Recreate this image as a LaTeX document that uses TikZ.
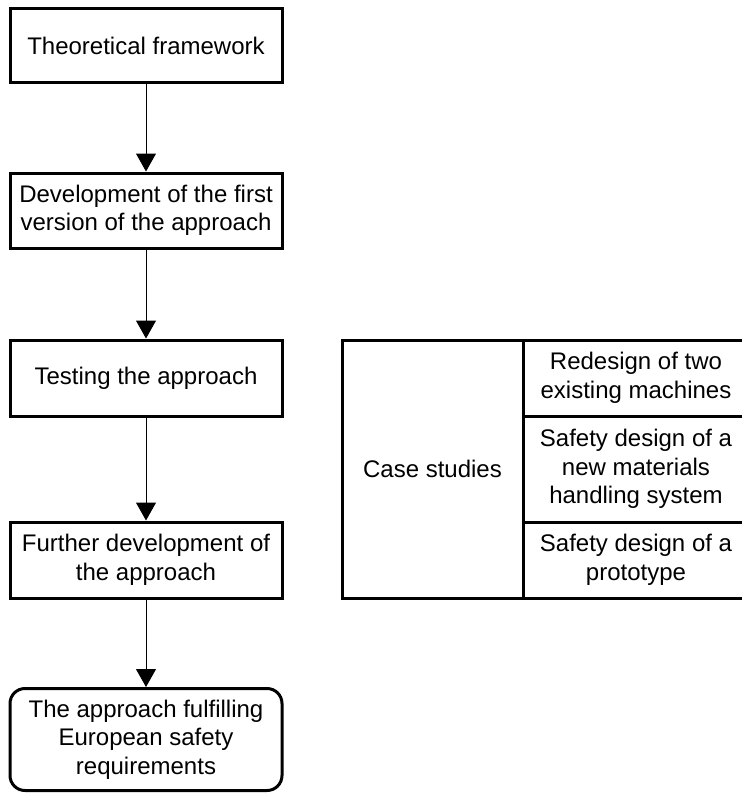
\documentclass[tikz,border=0pt]{standalone}
\usepackage{fontspec}
\setmainfont{Liberation Sans}
\usetikzlibrary{arrows.meta}
\begin{document}
\begin{tikzpicture}[x=1pt,y=1pt,
  every node/.style={font=\fontsize{24}{28.5}\selectfont, align=center, inner sep=0pt},
  stepbox/.style={draw, line width=3pt, minimum width=272pt},
  endbox/.style={stepbox, rounded corners=15pt},
  cell/.style={draw, line width=3pt, outer sep=0pt},
  flow/.style={line width=1pt, -{Triangle[width=20pt,length=18pt]}}]
  \clip (0,0) rectangle (742,-793);
  \fill[white] (0,0) rectangle (742,-793);
  % main sequence of steps
  \node[stepbox, minimum height=74pt] (tf) at (146,-45.5) {Theoretical framework};
  \node[stepbox, minimum height=75pt] (dev) at (146,-210.5) {Development of the first\\version of the approach};
  \node[stepbox, minimum height=76pt] (test) at (146,-378) {Testing the approach};
  \node[stepbox, minimum height=76pt] (fur) at (146,-560) {Further development of\\the approach};
  \node[endbox, minimum height=102pt] (eu) at (146,-739.5) {The approach fulfilling\\European safety\\requirements};
  \draw[flow] (tf.south) -- (dev.north);
  \draw[flow] (dev.south) -- (test.north);
  \draw[flow] (test.south) -- (fur.north);
  \draw[flow] (fur.south) -- (eu.north);
  % case studies table
  \node[cell, minimum width=181pt, minimum height=258pt] (cs) at (432.5,-469) {Case studies};
  \node[cell, minimum width=226pt, minimum height=76pt, anchor=north west] (c1) at (cs.north east) {Redesign of two\\existing machines};
  \node[cell, minimum width=226pt, minimum height=106pt, anchor=north west] (c2) at (c1.south west) {Safety design of a\\new materials\\handling system};
  \node[cell, minimum width=226pt, minimum height=76pt, anchor=north west] (c3) at (c2.south west) {Safety design of a\\prototype};
\end{tikzpicture}
\end{document}
